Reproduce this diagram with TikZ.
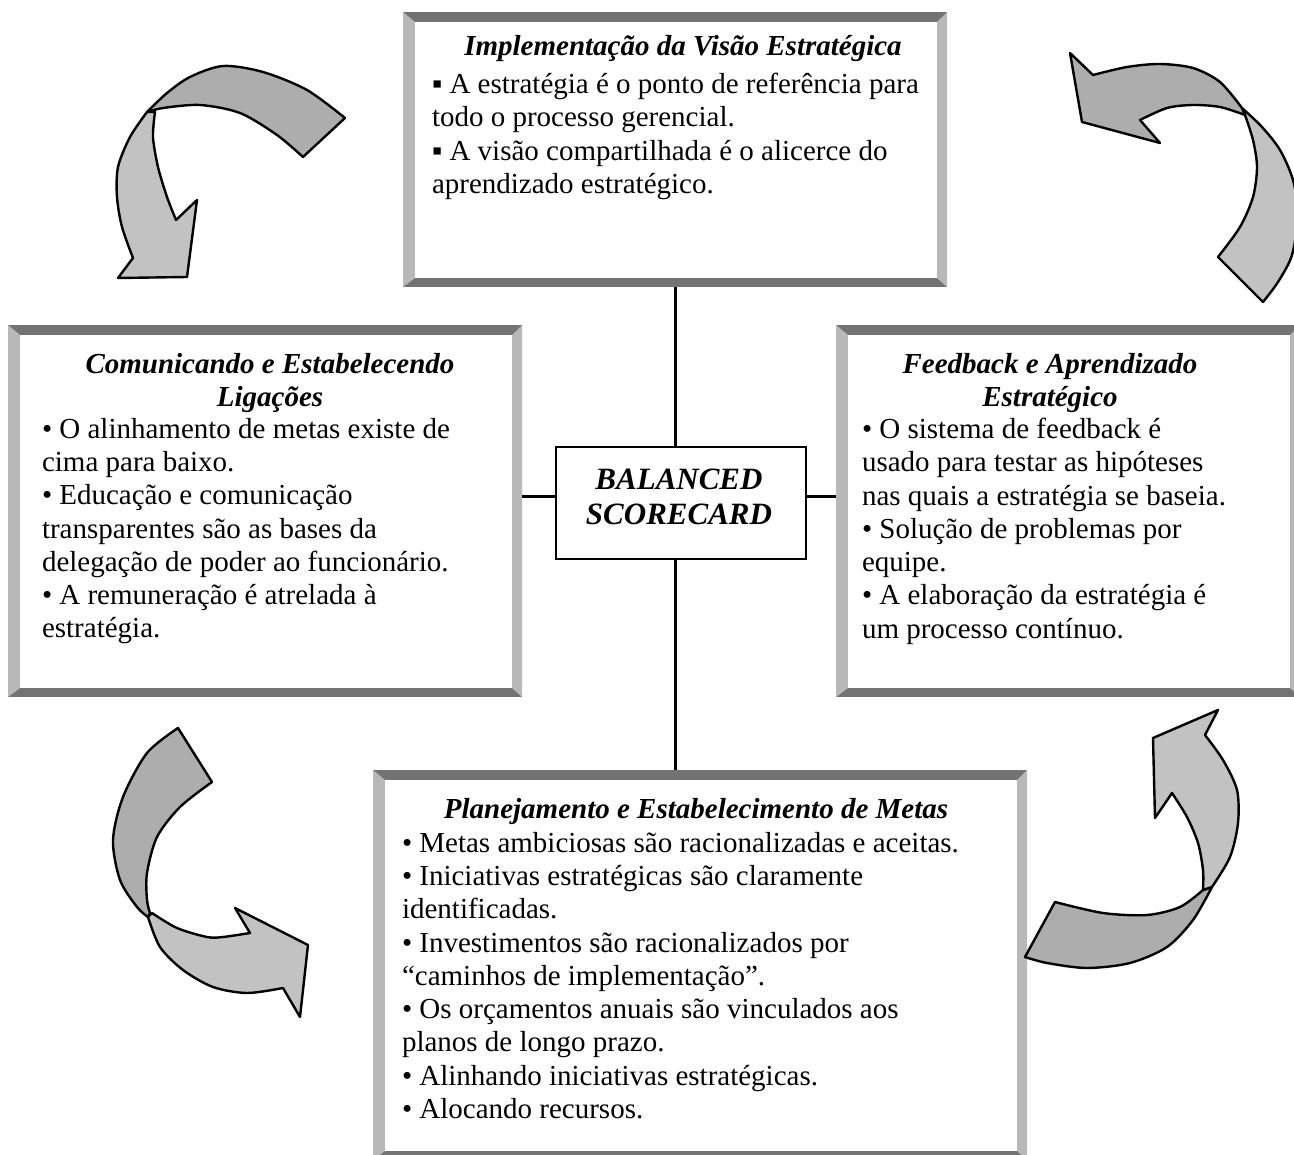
\documentclass[tikz,border=0pt]{standalone}
\usepackage{fontspec}
\setmainfont{Liberation Serif}
% bevelled grey frame around a panel node
\newcommand{\panelframe}[1]{%
  \fill[black!55] (#1.north west) rectangle (#1.south east);
  \fill[black!28] (#1.north west) -- ([shift={(12,10)}]#1.north west)
     -- ([shift={(12,-9)}]#1.south west) -- (#1.south west) -- cycle;
  \fill[black!28] (#1.north east) -- ([shift={(-10,10)}]#1.north east)
     -- ([shift={(-10,-9)}]#1.south east) -- (#1.south east) -- cycle;
  \fill[white] ([shift={(12,10)}]#1.north west) rectangle ([shift={(-10,-9)}]#1.south east);}
\begin{document}
\begin{tikzpicture}[x=1pt,y=-1pt,
  txt/.style={inner sep=0pt, outer sep=0pt, font=\fontsize{29}{33.3}\selectfont},
  ttl/.style={txt, align=center, anchor=north, font=\fontsize{29}{33.3}\selectfont\bfseries\itshape},
  body/.style={txt, align=left, anchor=north west},
  panel/.style={rectangle, inner sep=0pt, outer sep=0pt},
  core/.style={rectangle, draw=black, line width=2.2pt, fill=white, inner sep=0pt, outer sep=0pt},
  link/.style={line width=3pt},
  bandfront/.style={fill=black!24, draw=black, line width=2.4pt, line join=round},
  bandback/.style={fill=black!32, draw=black, line width=2.4pt, line join=round}]
\useasboundingbox (0,0) rectangle (1294,1155);
\clip (0,0) rectangle (1294,1155);

% panels
\node[panel, minimum width=544pt, minimum height=275pt] (vision) at (675,149.5) {};
\node[panel, minimum width=514pt, minimum height=372pt] (comm) at (265,511) {};
\node[panel, minimum width=464pt, minimum height=372pt] (feed) at (1068,511) {};
\node[panel, minimum width=654pt, minimum height=390pt] (plan) at (700,965) {};
\panelframe{vision}
\panelframe{comm}
\panelframe{feed}
\panelframe{plan}

% central box
\node[core, minimum width=250pt, minimum height=112pt] (bsc) at (681,503) {};
\node[ttl, font=\fontsize{31}{35}\selectfont\bfseries\itshape] (bsctext) at (679,469) {BALANCED\\SCORECARD};

% connectors
\coordinate (vx) at (675,0);
\coordinate (hy) at (0,497);
\draw[link] (vx |- vision.south) -- (vx |- bsc.north);
\draw[link] (vx |- bsc.south) -- (vx |- plan.north);
\draw[link] (comm.east |- hy) -- (bsc.west |- hy);
\draw[link] (bsc.east |- hy) -- (feed.west |- hy);

% panel texts
\node[ttl] (visiont) at (683,35) {Implementação da Visão Estratégica};
\node[body] (visionb) at (432,73) {▪ A estratégia é o ponto de referência para\\
todo o processo gerencial.\\
▪ A visão compartilhada é o alicerce do\\
aprendizado estratégico.};

\node[ttl] (commt) at (270,353) {Comunicando e Estabelecendo\\Ligações};
\node[body] (commb) at (42,418) {• O alinhamento de metas existe de\\
cima para baixo.\\
• Educação e comunicação\\
transparentes são as bases da\\
delegação de poder ao funcionário.\\
• A remuneração é atrelada à\\
estratégia.};

\node[ttl] (feedt) at (1050,353) {Feedback e Aprendizado\\Estratégico};
\node[body] (feedb) at (862,418) {• O sistema de feedback é\\
usado para testar as hipóteses\\
nas quais a estratégia se baseia.\\
• Solução de problemas por\\
equipe.\\
• A elaboração da estratégia é\\
um processo contínuo.};

\node[ttl] (plant) at (696,798) {Planejamento e Estabelecimento de Metas};
\node[body] (planb) at (402,832) {• Metas ambiciosas são racionalizadas e aceitas.\\
• Iniciativas estratégicas são claramente\\
identificadas.\\
• Investimentos são racionalizados por\\
“caminhos de implementação”.\\
• Os orçamentos anuais são vinculados aos\\
planos de longo prazo.\\
• Alinhando iniciativas estratégicas.\\
• Alocando recursos.};

% curved arrow, top left
\filldraw[bandback] plot[smooth] coordinates {(345,118) (307,90) (263,72) (223,66) (190,77) (167,93) (147,112)}
  -- plot[smooth] coordinates {(148,112) (163,108) (200,105) (240,113) (277,135) (303,157)} -- cycle;
\filldraw[bandfront] plot[smooth] coordinates {(147,112) (130,137) (118,167) (117,197) (122,227) (133,258)}
  -- (118,278) -- (187,277) -- (197,200) -- (176,220)
  -- plot[smooth] coordinates {(176,220) (167,197) (158,167) (153,137) (155,112)} -- cycle;

% curved arrow, top right
\filldraw[bandfront] plot[smooth] coordinates {(1242,108) (1262,127) (1280,150) (1293,180) (1298,215) (1292,255) (1278,282) (1263,302)}
  -- (1218,257)
  -- plot[smooth] coordinates {(1218,257) (1240,227) (1253,197) (1257,167) (1253,140) (1245,115)} -- cycle;
\filldraw[bandback] (1070,53) -- (1093,75)
  -- plot[smooth] coordinates {(1093,75) (1127,67) (1160,64) (1193,68) (1220,82) (1242,108)}
  -- (1245,115)
  -- plot[smooth] coordinates {(1245,115) (1220,107) (1193,105) (1167,108) (1140,120)}
  -- (1160,143) -- (1082,122) -- cycle;

% curved arrow, bottom left
\filldraw[bandback] plot[smooth] coordinates {(178,728) (147,753) (123,797) (113,840) (120,880) (137,907) (148,917)}
  -- plot[smooth] coordinates {(150,913) (147,900) (147,873) (157,837) (180,807) (212,782)} -- cycle;
\filldraw[bandfront] plot[smooth] coordinates {(148,917) (160,947) (183,970) (213,987) (247,993) (283,988)}
  -- (300,1017) -- (308,945) -- (235,908) -- (250,933)
  -- plot[smooth] coordinates {(250,933) (223,937) (207,937) (177,928) (152,913)} -- cycle;

% curved arrow, bottom right
\filldraw[bandback] plot[smooth] coordinates {(1203,890) (1180,907) (1147,915) (1103,913) (1055,902)}
  -- (1025,957)
  -- plot[smooth] coordinates {(1025,957) (1047,963) (1087,968) (1130,963) (1167,947) (1193,920) (1212,887)} -- cycle;
\filldraw[bandfront] plot[smooth] coordinates {(1212,887) (1230,857) (1238,823) (1237,790) (1223,760) (1205,735)}
  -- (1218,710) -- (1153,738) -- (1155,818) -- (1172,793)
  -- plot[smooth] coordinates {(1172,793) (1187,817) (1198,843) (1203,870) (1203,890)} -- cycle;
\end{tikzpicture}
\end{document}
